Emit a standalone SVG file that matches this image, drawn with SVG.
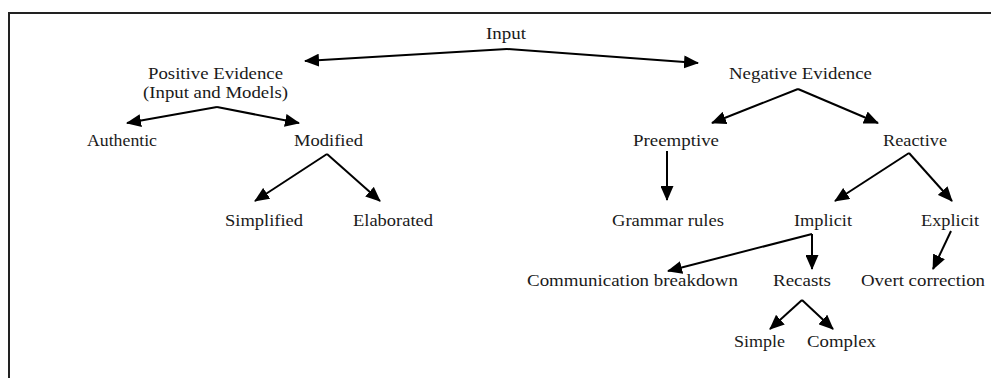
<svg xmlns="http://www.w3.org/2000/svg" width="991" height="378" viewBox="0 0 991 378">
<style>
text{font-family:"Liberation Serif","Times New Roman",serif;font-size:17px;fill:#1a1a1a}
.c{fill:none;stroke:#000;stroke-width:2;marker-end:url(#ah)}
.b{fill:none;stroke:#222;stroke-width:2}
</style>
<defs>
<marker id="ah" markerUnits="userSpaceOnUse" markerWidth="15" markerHeight="13" refX="14" refY="6.5" orient="auto"><path d="M0,0 L15,6.5 L0,13 z" fill="#000"/></marker>
</defs>
<rect width="991" height="378" fill="#fff"/>
<path class="b" d="M9,378 L9,13 L991,13"/>
<g id="connectors">
<path class="c" d="M507,49 L305,61"/>
<path class="c" d="M507,49 L698,63"/>
<path class="c" d="M217,107 L127,123"/>
<path class="c" d="M217,107 L299,123"/>
<path class="c" d="M327,154 L255,201"/>
<path class="c" d="M327,154 L380,201"/>
<path class="c" d="M798,89 L712,123"/>
<path class="c" d="M798,89 L878,123"/>
<path class="c" d="M667,151 L667,200"/>
<path class="c" d="M909,153 L835,201"/>
<path class="c" d="M909,153 L952,201"/>
<path class="c" d="M812,234 L812,269"/>
<path class="c" d="M812,234 L668,271"/>
<path class="c" d="M951,231 L933,269"/>
<path class="c" d="M802,300 L770,329"/>
<path class="c" d="M802,300 L833,329"/>
</g>
<g id="input"><text x="486" y="39" textLength="40" lengthAdjust="spacingAndGlyphs">Input</text></g>
<g id="positive"><text x="148" y="79" textLength="135" lengthAdjust="spacingAndGlyphs">Positive Evidence</text><text x="143" y="98" textLength="145" lengthAdjust="spacingAndGlyphs">(Input and Models)</text></g>
<g id="negative"><text x="729" y="79" textLength="143" lengthAdjust="spacingAndGlyphs">Negative Evidence</text></g>
<g id="authentic"><text x="87" y="146" textLength="70" lengthAdjust="spacingAndGlyphs">Authentic</text></g>
<g id="modified"><text x="294" y="146" textLength="69" lengthAdjust="spacingAndGlyphs">Modified</text></g>
<g id="preemptive"><text x="633" y="146" textLength="86" lengthAdjust="spacingAndGlyphs">Preemptive</text></g>
<g id="reactive"><text x="883" y="146" textLength="64" lengthAdjust="spacingAndGlyphs">Reactive</text></g>
<g id="simplified"><text x="225" y="226" textLength="78" lengthAdjust="spacingAndGlyphs">Simplified</text></g>
<g id="elaborated"><text x="353" y="226" textLength="80" lengthAdjust="spacingAndGlyphs">Elaborated</text></g>
<g id="grammar"><text x="612" y="226" textLength="112" lengthAdjust="spacingAndGlyphs">Grammar rules</text></g>
<g id="implicit"><text x="794" y="226" textLength="58" lengthAdjust="spacingAndGlyphs">Implicit</text></g>
<g id="explicit"><text x="921" y="226" textLength="58" lengthAdjust="spacingAndGlyphs">Explicit</text></g>
<g id="communication"><text x="527" y="286" textLength="211" lengthAdjust="spacingAndGlyphs">Communication breakdown</text></g>
<g id="recasts"><text x="773" y="286" textLength="58" lengthAdjust="spacingAndGlyphs">Recasts</text></g>
<g id="overt"><text x="861" y="286" textLength="124" lengthAdjust="spacingAndGlyphs">Overt correction</text></g>
<g id="simple"><text x="734" y="347" textLength="51" lengthAdjust="spacingAndGlyphs">Simple</text></g>
<g id="complex"><text x="807" y="347" textLength="69" lengthAdjust="spacingAndGlyphs">Complex</text></g>
</svg>
